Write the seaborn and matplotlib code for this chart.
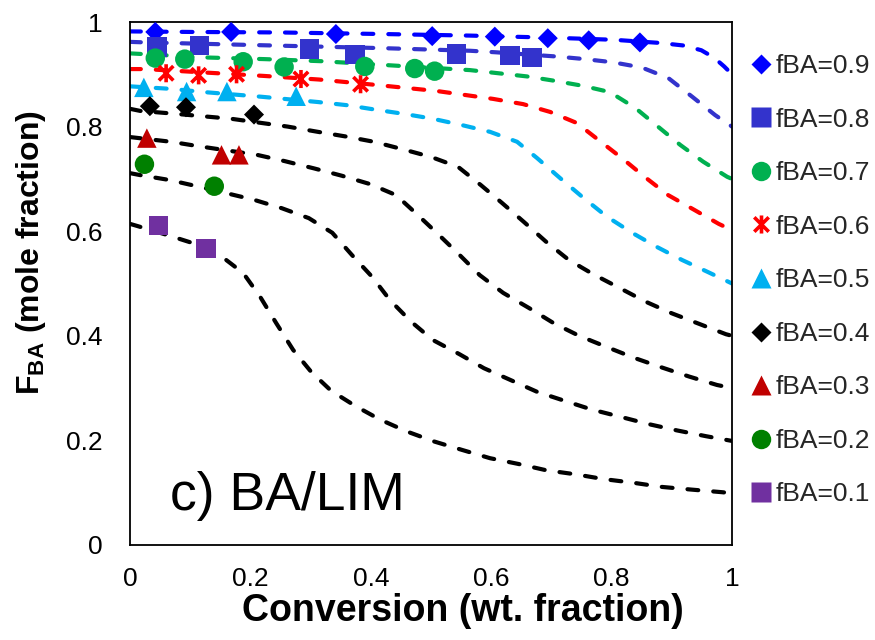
import matplotlib
matplotlib.use("Agg")
import matplotlib.pyplot as plt
from matplotlib.lines import Line2D
from matplotlib.path import Path
import pandas as pd
import seaborn as sns

# ---------------- model curves: cumulative copolymer composition vs conversion
conv_09 = [0, 0.10, 0.25, 0.42, 0.565, 0.70, 0.804, 0.88, 0.92, 0.949, 0.97, 0.987, 1.0]
fba_09 = [0.982, 0.981, 0.980, 0.977, 0.974, 0.970, 0.966, 0.960, 0.955, 0.946, 0.932, 0.915, 0.900]

conv_08 = [0, 0.025, 0.168, 0.42, 0.565, 0.609, 0.709, 0.756, 0.802, 0.85, 0.894, 0.934, 0.972, 1.0]
fba_08 = [0.962, 0.961, 0.957, 0.950, 0.945, 0.942, 0.934, 0.929, 0.923, 0.913, 0.893, 0.857, 0.822, 0.800]

conv_07 = [0, 0.131, 0.224, 0.319, 0.42, 0.565, 0.659, 0.703, 0.752, 0.797, 0.839, 0.877, 0.914, 0.952, 0.992, 1.0]
fba_07 = [0.940, 0.932, 0.929, 0.925, 0.918, 0.908, 0.896, 0.888, 0.878, 0.866, 0.836, 0.800, 0.765, 0.733, 0.704, 0.700]

conv_06 = [0, 0.025, 0.221, 0.314, 0.415, 0.51, 0.603, 0.653, 0.698, 0.742, 0.781, 0.819, 0.857, 0.894, 0.937, 0.978, 1.0]
fba_06 = [0.910, 0.910, 0.897, 0.890, 0.879, 0.868, 0.853, 0.843, 0.828, 0.807, 0.772, 0.738, 0.702, 0.669, 0.641, 0.614, 0.602]

conv_05 = [0, 0.07, 0.123, 0.219, 0.312, 0.36, 0.41, 0.457, 0.503, 0.551, 0.598, 0.643, 0.676, 0.718, 0.754, 0.792, 0.834, 0.875, 0.917, 0.958, 1.0]
fba_05 = [0.877, 0.872, 0.866, 0.857, 0.847, 0.841, 0.832, 0.824, 0.815, 0.803, 0.790, 0.771, 0.740, 0.698, 0.663, 0.628, 0.597, 0.570, 0.545, 0.523, 0.500]

conv_04 = [0, 0.017, 0.07, 0.168, 0.262, 0.312, 0.359, 0.405, 0.452, 0.50, 0.545, 0.583, 0.618, 0.654, 0.691, 0.729, 0.769, 0.814, 0.857, 0.90, 0.945, 0.99, 1.0]
fba_04 = [0.834, 0.830, 0.825, 0.815, 0.800, 0.790, 0.781, 0.771, 0.757, 0.742, 0.723, 0.688, 0.654, 0.618, 0.580, 0.545, 0.518, 0.491, 0.465, 0.443, 0.423, 0.403, 0.400]

conv_03 = [0, 0.068, 0.111, 0.211, 0.257, 0.306, 0.352, 0.399, 0.442, 0.478, 0.513, 0.548, 0.581, 0.62, 0.663, 0.704, 0.746, 0.791, 0.837, 0.882, 0.929, 0.975, 1.0]
fba_03 = [0.780, 0.771, 0.763, 0.746, 0.734, 0.720, 0.706, 0.690, 0.669, 0.631, 0.593, 0.554, 0.516, 0.482, 0.453, 0.424, 0.400, 0.379, 0.358, 0.340, 0.322, 0.306, 0.300]

conv_02 = [0, 0.018, 0.065, 0.111, 0.159, 0.206, 0.252, 0.297, 0.336, 0.369, 0.402, 0.432, 0.467, 0.503, 0.547, 0.588, 0.633, 0.676, 0.721, 0.767, 0.815, 0.862, 0.909, 0.957, 1.0]
fba_02 = [0.711, 0.707, 0.698, 0.686, 0.673, 0.660, 0.644, 0.625, 0.597, 0.554, 0.513, 0.468, 0.427, 0.392, 0.365, 0.338, 0.315, 0.293, 0.276, 0.259, 0.245, 0.231, 0.219, 0.208, 0.199]

conv_01 = [0, 0.012, 0.061, 0.105, 0.153, 0.188, 0.216, 0.243, 0.271, 0.301, 0.334, 0.374, 0.415, 0.46, 0.505, 0.551, 0.598, 0.645, 0.691, 0.741, 0.787, 0.836, 0.884, 0.932, 0.983, 1.0]
fba_01 = [0.614, 0.610, 0.593, 0.577, 0.551, 0.520, 0.475, 0.424, 0.373, 0.331, 0.295, 0.266, 0.240, 0.217, 0.198, 0.182, 0.166, 0.155, 0.143, 0.135, 0.126, 0.119, 0.111, 0.106, 0.101, 0.099]

# ---------------- experimental points
exp_conv_09 = [0.042, 0.168, 0.342, 0.502, 0.606, 0.694, 0.762, 0.847]
exp_fba_09 = [0.981, 0.981, 0.977, 0.973, 0.972, 0.969, 0.965, 0.961]

exp_conv_08 = [0.045, 0.115, 0.298, 0.374, 0.542, 0.631, 0.668]
exp_fba_08 = [0.952, 0.955, 0.948, 0.938, 0.939, 0.936, 0.932]

exp_conv_07 = [0.042, 0.091, 0.188, 0.256, 0.390, 0.473, 0.506]
exp_fba_07 = [0.931, 0.929, 0.924, 0.914, 0.915, 0.911, 0.906]

exp_conv_06 = [0.060, 0.114, 0.177, 0.284, 0.383]
exp_fba_06 = [0.902, 0.898, 0.900, 0.891, 0.881]

exp_conv_05 = [0.023, 0.094, 0.161, 0.276]
exp_fba_05 = [0.875, 0.867, 0.867, 0.858]

exp_conv_04 = [0.033, 0.093, 0.206]
exp_fba_04 = [0.839, 0.837, 0.823]

exp_conv_03 = [0.028, 0.152, 0.181]
exp_fba_03 = [0.778, 0.746, 0.746]

exp_conv_02 = [0.024, 0.140]
exp_fba_02 = [0.728, 0.686]

exp_conv_01 = [0.047, 0.126]
exp_fba_01 = [0.611, 0.567]

feed_labels = ["fBA=0.9", "fBA=0.8", "fBA=0.7", "fBA=0.6", "fBA=0.5",
               "fBA=0.4", "fBA=0.3", "fBA=0.2", "fBA=0.1"]
x_ticks = [0, 0.2, 0.4, 0.6, 0.8, 1.0]
x_tick_labels = ["0", "0.2", "0.4", "0.6", "0.8", "1"]
y_ticks = [0, 0.2, 0.4, 0.6, 0.8, 1.0]
y_tick_labels = ["0", "0.2", "0.4", "0.6", "0.8", "1"]

model_curves = [(conv_09, fba_09), (conv_08, fba_08), (conv_07, fba_07),
                (conv_06, fba_06), (conv_05, fba_05), (conv_04, fba_04),
                (conv_03, fba_03), (conv_02, fba_02), (conv_01, fba_01)]
exp_sets = [(exp_conv_09, exp_fba_09), (exp_conv_08, exp_fba_08),
            (exp_conv_07, exp_fba_07), (exp_conv_06, exp_fba_06),
            (exp_conv_05, exp_fba_05), (exp_conv_04, exp_fba_04),
            (exp_conv_03, exp_fba_03), (exp_conv_02, exp_fba_02),
            (exp_conv_01, exp_fba_01)]

# ---------------- styling
line_colors = ["#0000FF", "#3333CC", "#00B050", "#FF0000", "#00B0F0",
               "#000000", "#000000", "#000000", "#000000"]
marker_colors = ["#0000FF", "#3333CC", "#00B050", "#FF0000", "#00B0F0",
                 "#000000", "#C00000", "#008000", "#7030A0"]

# asterisk-style marker: an X with a vertical stroke
star = Path([(-0.8, -0.8), (0.8, 0.8), (-0.8, 0.8), (0.8, -0.8), (0, -1), (0, 1)],
            [Path.MOVETO, Path.LINETO, Path.MOVETO, Path.LINETO, Path.MOVETO, Path.LINETO])

markers = ["D", "s", "o", star, "^", "D", "^", "o", "s"]
marker_sizes = [10.2, 14, 14, 13, 14, 10.2, 14, 14, 14]

sns.set_theme(style="white")
plt.rcParams["font.family"] = ["Liberation Sans", "DejaVu Sans"]
plt.rcParams["mathtext.fontset"] = "custom"
plt.rcParams["mathtext.rm"] = "Liberation Sans"
plt.rcParams["mathtext.bf"] = "Liberation Sans:bold"

fig = plt.figure(figsize=(8.75, 6.4), dpi=100)
ax = fig.add_axes([130 / 875, 95 / 640, 602 / 875, 523 / 640])

for (cx, cy), col in zip(model_curves, line_colors):
    df = pd.DataFrame({"conversion": cx, "F_BA": cy})
    sns.lineplot(data=df, x="conversion", y="F_BA", ax=ax, color=col, lw=3,
                 linestyle=(0, (2.6, 3.6)), dash_capstyle="round",
                 sort=False, estimator=None, legend=False, zorder=2)

for (ex, ey), col, mk, ms in zip(exp_sets, marker_colors, markers, marker_sizes):
    df = pd.DataFrame({"conversion": ex, "F_BA": ey})
    if mk is star:
        sns.scatterplot(data=df, x="conversion", y="F_BA", ax=ax, marker=mk,
                        s=ms ** 2, color=col, facecolor="none", edgecolor=col,
                        linewidth=2.6, legend=False, zorder=3, clip_on=False)
    else:
        sns.scatterplot(data=df, x="conversion", y="F_BA", ax=ax, marker=mk,
                        s=ms ** 2, color=col, edgecolor="none", linewidth=0,
                        legend=False, zorder=3, clip_on=False)

ax.set_xlim(0, 1)
ax.set_ylim(0, 1)
ax.set_xticks(x_ticks)
ax.set_xticklabels(x_tick_labels)
ax.set_yticks(y_ticks)
ax.set_yticklabels(y_tick_labels)
ax.tick_params(axis="both", length=0, labelsize=19, colors="#000000")
ax.tick_params(axis="x", pad=16)
ax.tick_params(axis="y", pad=20)
ax.set_xlabel("")
ax.set_ylabel("")
ax.grid(False)
for sp in ax.spines.values():
    sp.set_color("#000000")
    sp.set_linewidth(1.3)
    sp.set_visible(True)

ax.text(0.066, 0.066, "c) BA/LIM", transform=ax.transAxes, fontsize=38.5,
        ha="left", va="baseline", color="#000000")

fig.text(463 / 875, 0.045, "Conversion (wt. fraction)", ha="center", va="center",
         fontsize=27, fontweight="bold", color="#000000")
fig.text(31 / 875, (640 - 253) / 640, r"$\mathbf{F}_{\mathbf{BA}}$ (mole fraction)",
         ha="center", va="center", rotation=90, fontsize=23, fontweight="bold",
         color="#000000")

handles = []
for col, mk, ms in zip(marker_colors, markers, marker_sizes):
    if mk is star:
        h = Line2D([], [], linestyle="none", marker=mk, markersize=ms,
                   markerfacecolor="none", markeredgecolor=col, markeredgewidth=2.6)
    else:
        h = Line2D([], [], linestyle="none", marker=mk, markersize=ms,
                   markerfacecolor=col, markeredgecolor="none")
    handles.append(h)

fig.legend(handles, feed_labels, loc="upper left",
           bbox_to_anchor=(748 / 875, (640 - 54) / 640),
           bbox_transform=fig.transFigure, frameon=False, fontsize=19,
           handlelength=1.0, handletextpad=0.05, labelspacing=1.12,
           borderpad=0, borderaxespad=0)

fig.savefig("out.png", dpi=100)
